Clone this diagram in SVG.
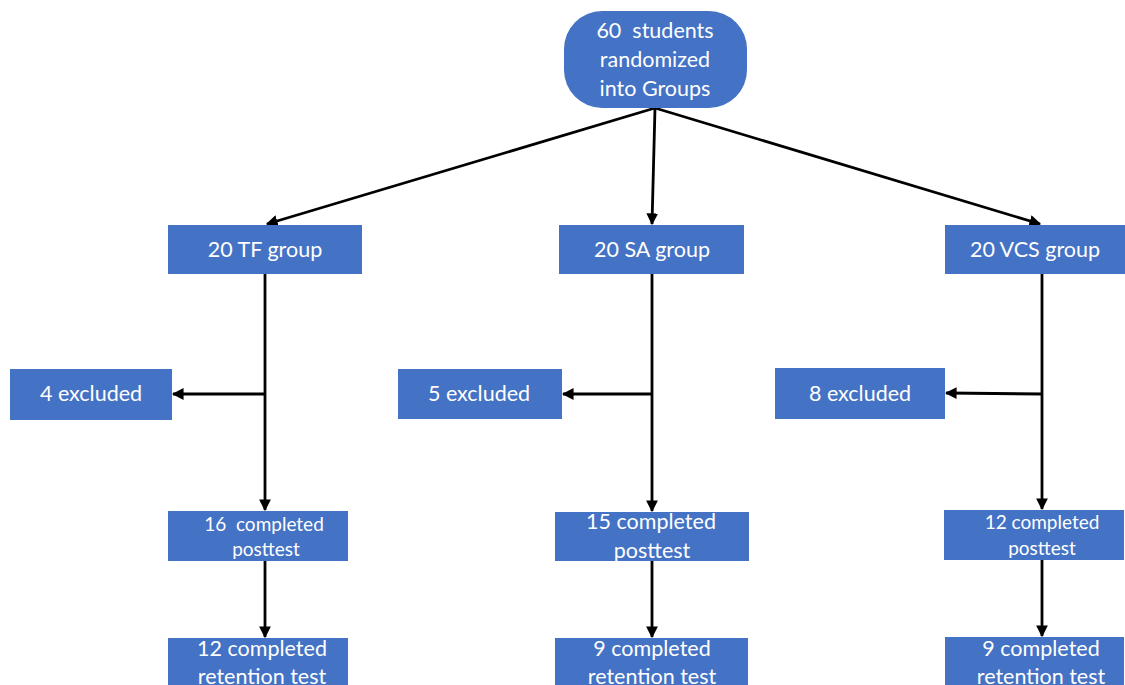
<svg xmlns="http://www.w3.org/2000/svg" width="1125" height="685" viewBox="0 0 1125 685">
  <style>
    .box { fill: #4472C4; }
    .t { fill: #ffffff; font-family: Lato, "Open Sans", "Liberation Sans", sans-serif; font-size: 21.5px; text-anchor: middle; white-space: pre; }
    .s { font-size: 19px; }
    .c { stroke: #000000; stroke-width: 2.8; fill: none; }
  </style>
  <defs>
    <marker id="arrow" viewBox="0 0 10 10" refX="9" refY="5" markerWidth="4.2" markerHeight="4.2" orient="auto" markerUnits="strokeWidth">
      <path d="M0,0 L10,5 L0,10 z" fill="#000000"/>
    </marker>
  </defs>
  <rect width="1125" height="685" fill="#ffffff"/>

  <!-- connectors: fan-out from the start node, then each group's column -->
  <g id="connectors">
    <line class="c" x1="655" y1="108" x2="267" y2="224" marker-end="url(#arrow)"/>
    <line class="c" x1="655" y1="108" x2="652" y2="224" marker-end="url(#arrow)"/>
    <line class="c" x1="655" y1="108" x2="1040" y2="224" marker-end="url(#arrow)"/>
    <line class="c" x1="265" y1="274" x2="265" y2="510" marker-end="url(#arrow)"/>
    <line class="c" x1="265" y1="394" x2="173" y2="394" marker-end="url(#arrow)"/>
    <line class="c" x1="652" y1="274" x2="652" y2="511" marker-end="url(#arrow)"/>
    <line class="c" x1="652" y1="394" x2="563" y2="394" marker-end="url(#arrow)"/>
    <line class="c" x1="1042" y1="274" x2="1042" y2="509" marker-end="url(#arrow)"/>
    <line class="c" x1="1042" y1="394" x2="946" y2="393" marker-end="url(#arrow)"/>
    <line class="c" x1="265" y1="561" x2="265" y2="637" marker-end="url(#arrow)"/>
    <line class="c" x1="652" y1="561" x2="652" y2="637" marker-end="url(#arrow)"/>
    <line class="c" x1="1042" y1="560" x2="1042" y2="636" marker-end="url(#arrow)"/>
  </g>

  <g id="start">
    <rect class="box" x="564" y="11" width="183" height="97" rx="38" ry="38"/>
    <text class="t" x="655" y="38">60  students</text>
    <text class="t" x="655" y="67">randomized</text>
    <text class="t" x="655" y="96">into Groups</text>
  </g>

  <g id="tf-group">
    <rect class="box" x="168" y="225" width="194" height="49"/>
    <text class="t" x="265" y="257">20 TF group</text>
  </g>
  <g id="sa-group">
    <rect class="box" x="559" y="225" width="185" height="49"/>
    <text class="t" x="652" y="257">20 SA group</text>
  </g>
  <g id="vcs-group">
    <rect class="box" x="945" y="225" width="180" height="49"/>
    <text class="t" x="1035" y="257">20 VCS group</text>
  </g>

  <g id="tf-excluded">
    <rect class="box" x="10" y="369" width="162" height="51"/>
    <text class="t" x="91" y="401">4 excluded</text>
  </g>
  <g id="sa-excluded">
    <rect class="box" x="398" y="369" width="164" height="50"/>
    <text class="t" x="479" y="401">5 excluded</text>
  </g>
  <g id="vcs-excluded">
    <rect class="box" x="775" y="368" width="170" height="51"/>
    <text class="t" x="860" y="401">8 excluded</text>
  </g>

  <g id="tf-posttest">
    <rect class="box" x="168" y="511" width="180" height="50"/>
    <text class="t s" x="264" y="531">16  completed</text>
    <text class="t s" x="266" y="556">posttest</text>
  </g>
  <g id="sa-posttest">
    <rect class="box" x="555" y="512" width="194" height="49"/>
    <text class="t" x="651" y="529">15 completed</text>
    <text class="t" x="652" y="558">posttest</text>
  </g>
  <g id="vcs-posttest">
    <rect class="box" x="944" y="510" width="180" height="50"/>
    <text class="t s" x="1042" y="529">12 completed</text>
    <text class="t s" x="1042" y="555">posttest</text>
  </g>

  <g id="tf-retention">
    <rect class="box" x="168" y="638" width="180" height="50"/>
    <text class="t" x="262" y="656">12 completed</text>
    <text class="t" x="262" y="684">retention test</text>
  </g>
  <g id="sa-retention">
    <rect class="box" x="555" y="638" width="193" height="50"/>
    <text class="t" x="652" y="656">9 completed</text>
    <text class="t" x="652" y="684">retention test</text>
  </g>
  <g id="vcs-retention">
    <rect class="box" x="945" y="637" width="179" height="50"/>
    <text class="t" x="1041" y="656">9 completed</text>
    <text class="t" x="1041" y="684">retention test</text>
  </g>
</svg>
